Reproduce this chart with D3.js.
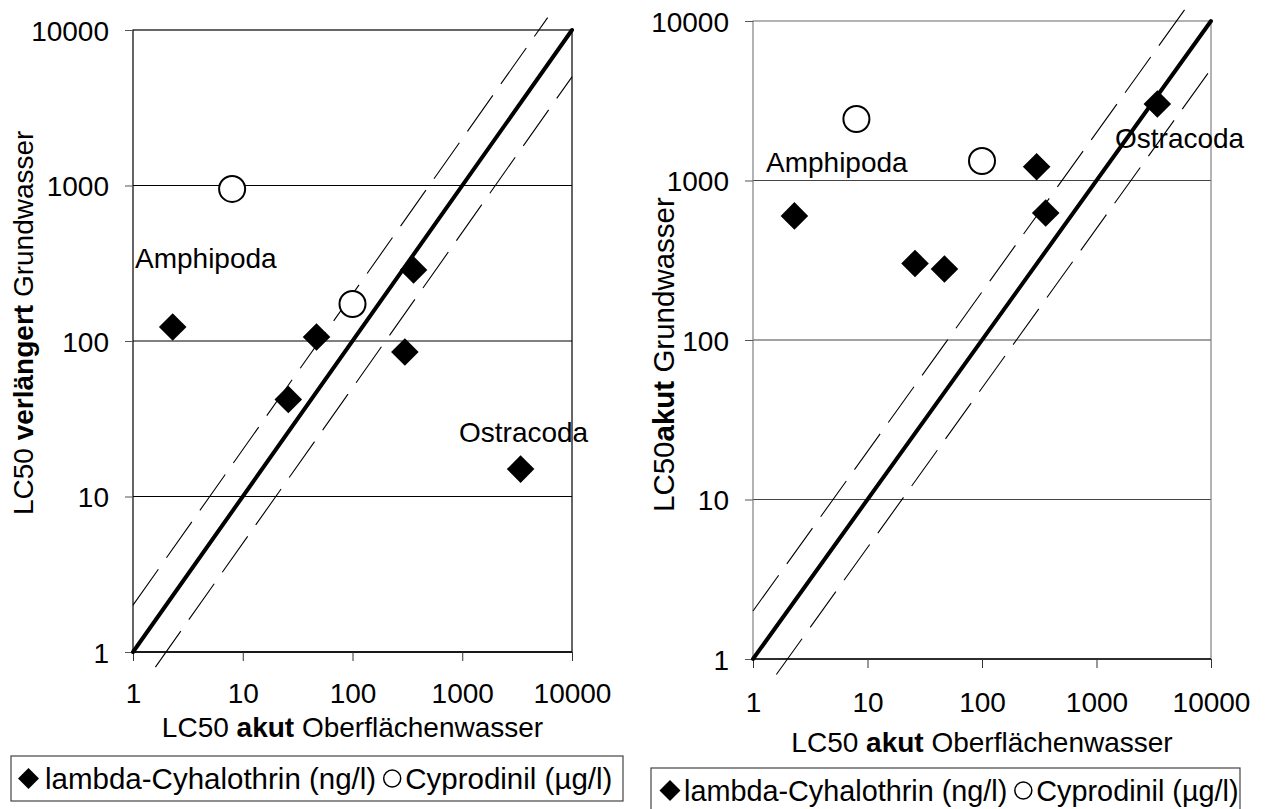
<!DOCTYPE html>
<html>
<head>
<meta charset="utf-8">
<script src="https://cdn.jsdelivr.net/npm/d3@7"></script>
<style>
  body { margin: 0; background: #fff; }
  text { font-family: "Liberation Sans", Arial, sans-serif; }
</style>
</head>
<body>
<svg id="chart" width="1267" height="809"></svg>
<script>
// decade ticks, shared by both axes of both panels
var ticks = [1, 10, 100, 1000, 10000];
var tickLabels = ["1", "10", "100", "1000", "10000"];

// LC50 acute surface water (x) - same for both panels
var cyhaloSurface = [2.3, 26, 47, 300, 360, 3400];
var cyproSurface = [8, 100];

// left panel: LC50 prolonged groundwater
var cyhaloProlonged = [123, 42, 106, 85, 286, 15];
var cyproProlonged = [950, 173];

// right panel: LC50 acute groundwater
var cyhaloAcute = [600, 302, 279, 1220, 626, 3020];
var cyproAcute = [2430, 1325];

// reference lines: 1:1 and factor 2 either side [x0, x1, factor]
var refSolid = [1, 10000, 1];
var refUpper = [1, 6000, 2];
var refLower = [1.6, 10000, 0.5];

var legendNames = ["lambda-Cyhalothrin (ng/l)", "Cyprodinil (\u00b5g/l)"];

var svg = d3.select("#chart");

// clip for the right y title (its last letter is cut off in the original)
svg.append("defs").append("clipPath").attr("id", "titleclip")
    .append("rect").attr("x", 600).attr("y", 193).attr("width", 120).attr("height", 400);

// panel layouts
var panels = [
    {
        x0: 133, x1: 572, y0: 652, y1: 30,
        yvals: cyhaloProlonged, ycirc: cyproProlonged,
        grid: "#000", frame: "#000",
        yTitle: ["LC50 ", "verlängert", " Grundwasser"], yTitleX: 33, yTitleY: 515, yTitleSize: 28, clip: null,
        xTitleY: 737, xLabY: 703,
        amphi: [135, 268], ostra: [459, 442],
        legend: { x: 11, y: 756, w: 612, h: 45, font: 29.5, dx: 17.5, tx: 34 }
    },
    {
        x0: 753, x1: 1211, y0: 659, y1: 21,
        yvals: cyhaloAcute, ycirc: cyproAcute,
        grid: "#444", frame: "#808080",
        yTitle: ["LC50", "akut", " Grundwasser"], yTitleX: 674, yTitleY: 512, yTitleSize: 29.5, clip: "url(#titleclip)",
        xTitleY: 752, xLabY: 712,
        amphi: [766, 172], ostra: [1115, 148],
        legend: { x: 651, y: 768, w: 589, h: 45, font: 28.8, dx: 19, tx: 33 }
    }
];

panels.forEach(drawPanel);

function drawPanel(p) {
    var x = d3.scaleLog().domain([1, 10000]).range([p.x0, p.x1]);
    var y = d3.scaleLog().domain([1, 10000]).range([p.y0, p.y1]);
    var g = svg.append("g");

    // horizontal grid lines
    g.selectAll(".grid").data(ticks.slice(1, 4)).enter().append("line")
        .attr("x1", p.x0).attr("x2", p.x1)
        .attr("y1", function (d) { return y(d); })
        .attr("y2", function (d) { return y(d); })
        .attr("stroke", p.grid).attr("stroke-width", 1);

    // frame
    g.append("rect")
        .attr("x", p.x0).attr("y", p.y1)
        .attr("width", p.x1 - p.x0).attr("height", p.y0 - p.y1)
        .attr("fill", "none").attr("stroke", p.frame).attr("stroke-width", 1.2);
    g.append("line")
        .attr("x1", p.x0).attr("x2", p.x1).attr("y1", p.y0).attr("y2", p.y0)
        .attr("stroke", "#000").attr("stroke-width", 1.5);

    // axes (ticks outward, labels at decades)
    var xAxis = g.append("g").attr("transform", "translate(0," + p.y0 + ")")
        .call(d3.axisBottom(x).tickValues(ticks).tickSize(9).tickFormat(function (d, i) { return tickLabels[i]; }));
    xAxis.select(".domain").remove();
    xAxis.selectAll("line").attr("stroke", "#333");
    xAxis.selectAll("text").attr("y", p.xLabY - p.y0).attr("dy", 0)
        .attr("font-size", 28).attr("fill", "#000");

    var yAxis = g.append("g").attr("transform", "translate(" + p.x0 + ",0)")
        .call(d3.axisLeft(y).tickValues(ticks).tickSize(8).tickPadding(16).tickFormat(function (d, i) { return tickLabels[i]; }));
    yAxis.select(".domain").remove();
    yAxis.selectAll("line").attr("stroke", "#555");
    yAxis.selectAll("text").attr("font-size", 28).attr("fill", "#000").attr("dy", "0.36em");

    // reference lines
    var lineGen = d3.line().x(function (d) { return x(d[0]); }).y(function (d) { return y(d[1]); });
    [refUpper, refLower].forEach(function (r) {
        g.append("path")
            .attr("d", lineGen([[r[0], r[0] * r[2]], [r[1], r[1] * r[2]]]))
            .attr("stroke", "#000").attr("stroke-width", 1.1)
            .attr("stroke-dasharray", "44,14").attr("fill", "none");
    });
    g.append("path")
        .attr("d", lineGen([[refSolid[0], refSolid[0]], [refSolid[1], refSolid[1]]]))
        .attr("stroke", "#000").attr("stroke-width", 4).attr("stroke-linecap", "round")
        .attr("fill", "none");

    // lambda-Cyhalothrin diamonds
    g.selectAll(".dia").data(cyhaloSurface).enter().append("path")
        .attr("d", d3.symbol().type(d3.symbolSquare).size(380))
        .attr("transform", function (d, i) {
            return "translate(" + x(d) + "," + y(p.yvals[i]) + ") rotate(45)";
        })
        .attr("fill", "#000");

    // Cyprodinil circles
    g.selectAll(".circ").data(cyproSurface).enter().append("circle")
        .attr("cx", function (d) { return x(d); })
        .attr("cy", function (d, i) { return y(p.ycirc[i]); })
        .attr("r", 13)
        .attr("fill", "#fff").attr("stroke", "#000").attr("stroke-width", 2);

    // group labels
    g.append("text").attr("x", p.amphi[0]).attr("y", p.amphi[1])
        .attr("font-size", 28).text("Amphipoda");
    g.append("text").attr("x", p.ostra[0]).attr("y", p.ostra[1])
        .attr("font-size", 28).text("Ostracoda");

    // axis titles
    var yt = g.append("text")
        .attr("transform", "translate(" + p.yTitleX + "," + p.yTitleY + ") rotate(-90)")
        .attr("font-size", p.yTitleSize);
    if (p.clip) yt.attr("clip-path", null);
    p.yTitle.forEach(function (s, i) {
        yt.append("tspan").attr("font-weight", i === 1 ? "bold" : "normal").text(s);
    });
    if (p.clip) {
        // wrap in a clipped group (clip in page coordinates)
        var cg = g.append("g").attr("clip-path", p.clip);
        cg.node().appendChild(yt.node());
    }

    var xt = g.append("text")
        .attr("x", (p.x0 + p.x1) / 2).attr("y", p.xTitleY)
        .attr("text-anchor", "middle").attr("font-size", 28);
    ["LC50 ", "akut", " Oberflächenwasser"].forEach(function (s, i) {
        xt.append("tspan").attr("font-weight", i === 1 ? "bold" : "normal").text(s);
    });

    // legend
    var L = p.legend;
    var lg = svg.append("g");
    lg.append("rect").attr("x", L.x).attr("y", L.y).attr("width", L.w).attr("height", L.h)
        .attr("fill", "#fff").attr("stroke", "#444").attr("stroke-width", 1.2);
    var cy = L.y + L.h / 2;
    lg.append("path")
        .attr("d", d3.symbol().type(d3.symbolSquare).size(220))
        .attr("transform", "translate(" + (L.x + L.dx) + "," + cy + ") rotate(45)")
        .attr("fill", "#000");
    var t1 = lg.append("text").attr("x", L.x + L.tx).attr("y", cy + 10)
        .attr("font-size", L.font).text(legendNames[0]);
    var w1 = t1.node().getComputedTextLength();
    var cx2 = L.x + L.tx + w1 + 16;
    lg.append("circle").attr("cx", cx2).attr("cy", cy).attr("r", 8.5)
        .attr("fill", "#fff").attr("stroke", "#000").attr("stroke-width", 1.5);
    lg.append("text").attr("x", cx2 + 13).attr("y", cy + 10)
        .attr("font-size", L.font).text(legendNames[1]);
}
</script>
</body>
</html>
